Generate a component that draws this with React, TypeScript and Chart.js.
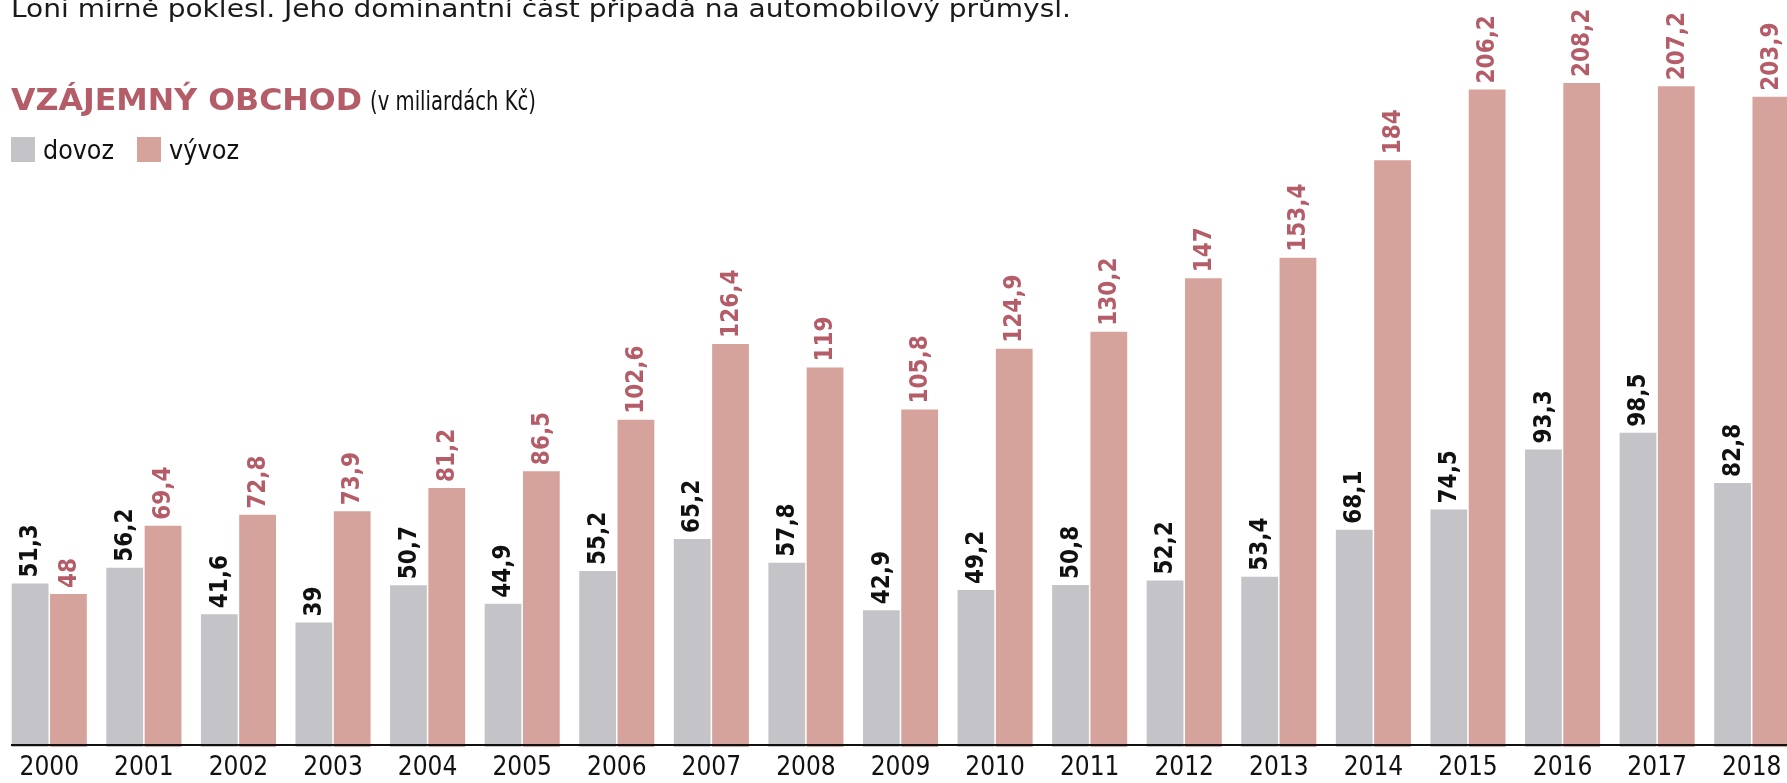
import React, { useEffect, useLayoutEffect, useRef } from "react";
import { Chart, registerables } from "chart.js";

Chart.register(...registerables);

const years = ["2000","2001","2002","2003","2004","2005","2006","2007","2008","2009","2010","2011","2012","2013","2014","2015","2016","2017","2018"];
const dovoz = [51.3, 56.2, 41.6, 39, 50.7, 44.9, 55.2, 65.2, 57.8, 42.9, 49.2, 50.8, 52.2, 53.4, 68.1, 74.5, 93.3, 98.5, 82.8];
const vyvoz = [48, 69.4, 72.8, 73.9, 81.2, 86.5, 102.6, 126.4, 119, 105.8, 124.9, 130.2, 147, 153.4, 184, 206.2, 208.2, 207.2, 203.9];

const GRAY = "#c4c3c7";
const PINK = "#d5a29c";
const RED = "#b45d68";
const COND = '"DejaVu Sans Condensed", "Liberation Sans Narrow", "Open Sans", sans-serif';

const fmt = (v: number) => String(v).replace(".", ",");

const labelPlugin = {
  id: "barLabels",
  afterDatasetsDraw(chart: any) {
    const ctx = chart.ctx;
    ctx.save();
    const y0 = chart.scales.y.getPixelForValue(0);
    ctx.strokeStyle = "#111";
    ctx.lineWidth = 2;
    ctx.beginPath();
    ctx.moveTo(11, y0 - 2);
    ctx.lineTo(chart.width, y0 - 2);
    ctx.stroke();
    chart.data.datasets.forEach((ds: any, di: number) => {
      const meta = chart.getDatasetMeta(di);
      meta.data.forEach((bar: any, i: number) => {
        ctx.save();
        ctx.translate(bar.x, bar.y - 6);
        ctx.rotate(-Math.PI / 2);
        ctx.font = "bold 24px " + COND;
        ctx.fillStyle = di === 0 ? "#111" : RED;
        ctx.textAlign = "left";
        ctx.textBaseline = "middle";
        ctx.fillText(fmt(ds.data[i]), 0, 1);
        ctx.restore();
      });
    });
    ctx.restore();
  },
};

function FitText(props: { text: string; left: number; baseline: number; width: number; size: number; bold?: boolean; color: string }) {
  const r = useRef<HTMLDivElement | null>(null);
  useLayoutEffect(() => {
    const el = r.current;
    if (!el) return;
    el.style.transform = "none";
    const w = el.getBoundingClientRect().width;
    if (w > 0) el.style.transform = `scaleX(${props.width / w})`;
  });
  return (
    <div
      ref={r}
      style={{
        position: "absolute",
        left: props.left,
        top: props.baseline - 0.846 * props.size,
        fontFamily: COND,
        fontSize: props.size,
        lineHeight: props.size + "px",
        fontWeight: props.bold ? "bold" : "normal",
        color: props.color,
        whiteSpace: "nowrap",
        transformOrigin: "0 0",
        display: "inline-block",
      }}
    >
      {props.text}
    </div>
  );
}

export default function App() {
  const ref = useRef<HTMLCanvasElement | null>(null);
  useEffect(() => {
    if (!ref.current) return;
    const chart = new Chart(ref.current, {
      type: "bar",
      data: {
        labels: years,
        datasets: [
          { label: "dovoz", data: dovoz, backgroundColor: GRAY, barPercentage: 0.96, categoryPercentage: 0.81 },
          { label: "vývoz", data: vyvoz, backgroundColor: PINK, barPercentage: 0.96, categoryPercentage: 0.81 },
        ],
      },
      options: {
        animation: false,
        responsive: false,
        devicePixelRatio: 1,
        layout: { padding: { left: 2, right: 1, top: 13.5, bottom: 0 } },
        plugins: { legend: { display: false }, tooltip: { enabled: false }, title: { display: false } },
        scales: {
          x: {
            grid: { display: false, drawTicks: false },
            border: { display: false },
            ticks: { color: "#111", font: { family: COND, size: 26 }, padding: 6, maxRotation: 0, autoSkip: false },
            afterFit: (s: any) => { s.height = 36; },
          },
          y: { display: false, min: 0, max: 230 },
        },
      },
      plugins: [labelPlugin],
    });
    return () => chart.destroy();
  }, []);

  return (
    <div style={{ position: "fixed", left: 0, top: 0, width: 1787, height: 783, overflow: "hidden", background: "#fff" }}>
      <canvas ref={ref} width={1800} height={783} style={{ position: "absolute", left: 0, top: 0, width: 1800, height: 783 }} />
      <FitText text="Loni mírně poklesl. Jeho dominantní část připadá na automobilový průmysl." left={11} baseline={17} width={1060} size={24} color="#1a1a1a" />
      <FitText text="VZÁJEMNÝ OBCHOD" left={11} baseline={110} width={351} size={30} bold color={RED} />
      <FitText text="(v miliardách Kč)" left={370} baseline={110} width={166} size={26} color="#111" />
      <div style={{ position: "absolute", left: 11, top: 137, width: 24, height: 25, background: GRAY }} />
      <FitText text="dovoz" left={43} baseline={159} width={71} size={27} color="#111" />
      <div style={{ position: "absolute", left: 137, top: 137, width: 24, height: 25, background: PINK }} />
      <FitText text="vývoz" left={169} baseline={159} width={70} size={27} color="#111" />
    </div>
  );
}
